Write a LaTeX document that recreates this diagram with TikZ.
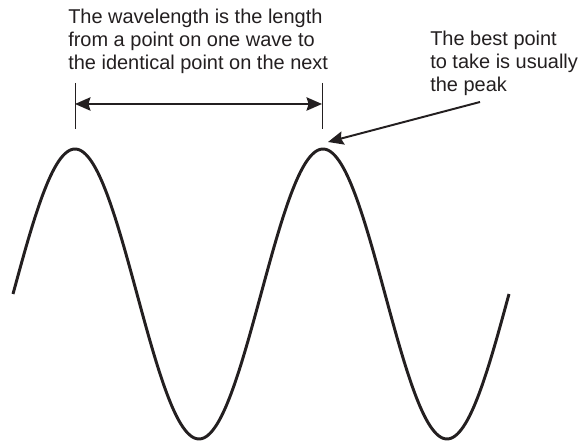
\documentclass[tikz,border=0pt]{standalone}
\usepackage{fontspec}
\setmainfont{Liberation Sans}
\usetikzlibrary{arrows.meta}
\definecolor{inkgray}{RGB}{35, 31, 32}

\begin{document}
\begin{tikzpicture}[x=0.025cm, y=-0.025cm,
    note/.style={inner sep=0pt, anchor=north west, align=left, text=inkgray,
                 font=\fontsize{14.2}{16.2}\selectfont},
    tickline/.style={inkgray, line width=0.7pt},
    dimarrow/.style={{Stealth[length=11pt,width=9.5pt,inset=1.5pt]}-{Stealth[length=11pt,width=9.5pt,inset=1.5pt]},
                     inkgray, line width=1.4pt},
    callout/.style={-{Stealth[length=11pt,width=9.5pt,inset=1.5pt]}, inkgray, line width=1.4pt}]
  \useasboundingbox (0,0) rectangle (581,444);
  %---- Labels ---------------------------------------------------------------
  \node[note] (wavelabel) at (68,9)
    {The wavelength is the length\\from a point on one wave to\\the identical point on the next};
  \node[note] (peaklabel) at (430,31)
    {The best point\\to take is usually\\the peak};
  %---- Wavelength marker ----------------------------------------------------
  \coordinate (tickL) at (75,104);
  \coordinate (tickR) at (322,104);
  \draw[tickline] (75,83) -- (75,129);
  \draw[tickline] (322,83) -- (322,129);
  \draw[dimarrow] (tickL) -- (tickR);
  %---- The wave -------------------------------------------------------------
  \draw[inkgray, line width=2.1pt, line join=round]
    plot[domain=13:509, samples=240, smooth] (\x,{294-145*sin(1.451613*(\x-13))});
  %---- Pointer to the peak --------------------------------------------------
  \coordinate (calltail) at (480,102);
  \coordinate (peaktip) at (328,142);
  \draw[callout] (calltail) -- (peaktip);
\end{tikzpicture}
\end{document}
